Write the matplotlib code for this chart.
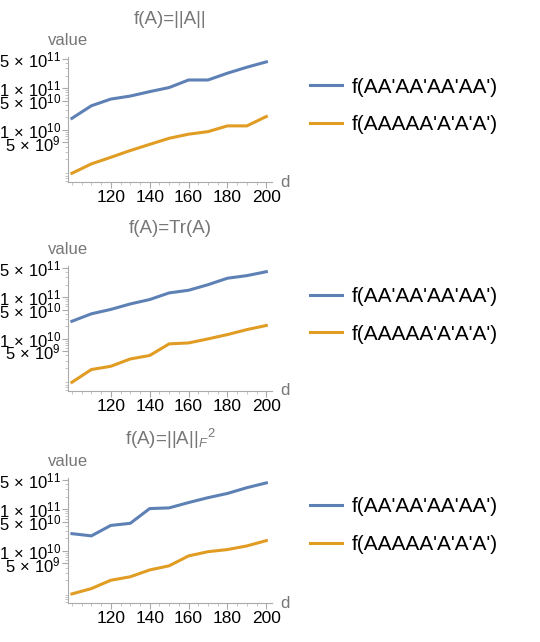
import matplotlib.pyplot as plt
from matplotlib.ticker import FixedLocator, NullFormatter

plt.rcParams['font.family'] = ['Liberation Sans', 'DejaVu Sans']
plt.rcParams['mathtext.fontset'] = 'custom'
plt.rcParams['mathtext.rm'] = 'Liberation Sans'
plt.rcParams['mathtext.it'] = 'Liberation Sans:italic'

d = [100, 110, 120, 130, 140, 150, 160, 170, 180, 190, 200]

# f(A)=||A||
norm_alt = [1.9e10, 3.8e10, 5.5e10, 6.5e10, 8.3e10, 1.04e11, 1.58e11, 1.58e11, 2.3e11, 3.2e11, 4.3e11]
norm_blk = [9.1e8, 1.53e9, 2.2e9, 3.2e9, 4.5e9, 6.3e9, 7.9e9, 9.1e9, 1.25e10, 1.25e10, 2.1e10]

# f(A)=Tr(A)
tr_alt = [2.65e10, 4.0e10, 5.1e10, 6.9e10, 8.8e10, 1.27e11, 1.47e11, 2.0e11, 2.86e11, 3.3e11, 4.1e11]
tr_blk = [9.1e8, 1.84e9, 2.2e9, 3.3e9, 4.0e9, 7.6e9, 8.0e9, 1.0e10, 1.27e10, 1.67e10, 2.1e10]

# f(A)=||A||_F^2
fro_alt = [2.6e10, 2.3e10, 4.1e10, 4.6e10, 1.04e11, 1.08e11, 1.45e11, 1.9e11, 2.4e11, 3.3e11, 4.3e11]
fro_blk = [9.3e8, 1.25e9, 1.98e9, 2.4e9, 3.5e9, 4.4e9, 7.6e9, 9.6e9, 1.08e10, 1.32e10, 1.77e10]

titles = ['f(A)=||A||', 'f(A)=Tr(A)', r'f(A)=||A||$_{F}$$^{2}$']
series = [(norm_alt, norm_blk), (tr_alt, tr_blk), (fro_alt, fro_blk)]
labels = ["f(AA'AA'AA'AA')", "f(AAAAA'A'A'A')"]
yticks = [5e9, 1e10, 5e10, 1e11, 5e11]
ytick_labels = [r'5$\,\times\,$10$^{9}$', r'1$\,\times\,$10$^{10}$', r'5$\,\times\,$10$^{10}$',
                r'1$\,\times\,$10$^{11}$', r'5$\,\times\,$10$^{11}$']

blue = '#5E81B5'
orange = '#E19C24'
gray = '#777777'

fig = plt.figure(figsize=(5.4, 6.42), dpi=100)

bottoms = [0.7165, 0.391, 0.0607]
legend_y = [0.835, 0.509, 0.181]

for i in range(3):
    ax = fig.add_axes([0.126, bottoms[i], 0.378, 0.1947])
    ax.plot(d, series[i][0], color=blue, lw=2.2, label=labels[0])
    ax.plot(d, series[i][1], color=orange, lw=2.2, label=labels[1])
    ax.set_yscale('log')
    ax.set_ylim(10 ** 8.75, 10 ** 11.75)
    ax.set_xlim(98, 203)

    for s in ['top', 'right']:
        ax.spines[s].set_visible(False)
    for s in ['left', 'bottom']:
        ax.spines[s].set_color('#aaaaaa')
        ax.spines[s].set_linewidth(0.8)

    ax.set_xticks([120, 140, 160, 180, 200])
    ax.xaxis.set_minor_locator(FixedLocator(range(100, 201, 5)))
    ax.set_yticks(yticks)
    ax.set_yticklabels(ytick_labels)
    ax.yaxis.set_minor_formatter(NullFormatter())
    ax.tick_params(axis='both', which='major', colors='#aaaaaa', labelcolor='black',
                   labelsize=12.5, length=4, width=0.8, pad=2)
    ax.tick_params(axis='both', which='minor', colors='#bbbbbb', length=2, width=0.6)
    ax.tick_params(axis='y', labelsize=12, pad=1)

    ax.set_title(titles[i], color=gray, fontsize=13.5, pad=24)
    ax.text(-0.1, 1.07, 'value', transform=ax.transAxes, color=gray, fontsize=12,
            ha='left', va='bottom')
    ax.text(1.04, 0.0, 'd', transform=ax.transAxes, color=gray, fontsize=12,
            ha='left', va='center')

    fig.legend(handles=ax.get_lines(), loc='center left', bbox_to_anchor=(0.574, legend_y[i]),
               frameon=False, fontsize=15, handlelength=1.55, handletextpad=0.45,
               labelspacing=0.9, borderpad=0, borderaxespad=0)

fig.savefig('out.png', dpi=100)
